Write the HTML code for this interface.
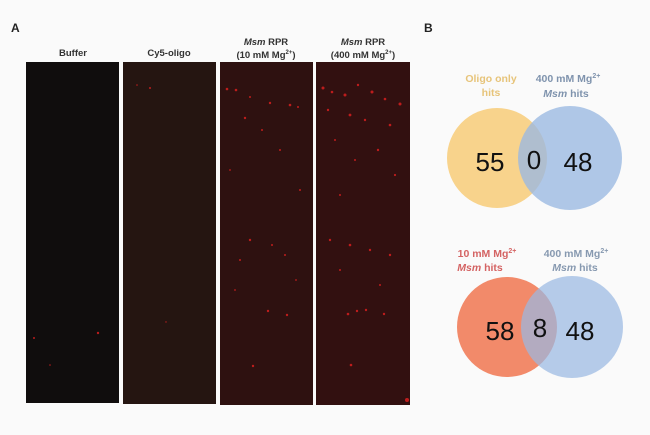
<!DOCTYPE html>
<html><head><style>
body{margin:0;width:650px;height:430px;background:#fafafa;overflow:hidden;font-family:"Liberation Sans",Arial,sans-serif}
</style></head><body>
<svg width="650" height="430" xmlns="http://www.w3.org/2000/svg" font-family="Liberation Sans, Arial, sans-serif">
<rect width="650" height="430" fill="#fafafa"/>
<text x="11" y="32" font-size="12" font-weight="bold" fill="#222">A</text>
<text x="424" y="32" font-size="12" font-weight="bold" fill="#222">B</text>
<g font-size="9.5" font-weight="bold" fill="#333" text-anchor="middle">
<text x="73" y="56">Buffer</text>
<text x="169" y="56">Cy5-oligo</text>
<text x="266" y="45"><tspan font-style="italic">Msm</tspan> RPR</text>
<text x="266" y="58">(10 mM Mg<tspan font-size="6" dy="-4">2+</tspan><tspan dy="4">)</tspan></text>
<text x="363" y="45"><tspan font-style="italic">Msm</tspan> RPR</text>
<text x="363" y="58">(400 mM Mg<tspan font-size="6" dy="-4">2+</tspan><tspan dy="4">)</tspan></text>
</g>
<rect x="26" y="62" width="93" height="341" fill="#100d0d"/>
<rect x="123" y="62" width="93" height="342" fill="#251511"/>
<rect x="220" y="62" width="93" height="343" fill="#2e1110"/>
<rect x="316" y="62" width="94" height="343" fill="#321010"/>
<g fill="#e02020" opacity="0.8">
<circle cx="98" cy="333" r="1.2"/><circle cx="34" cy="338" r="1"/><circle cx="50" cy="365" r="0.8"/>
<circle cx="150" cy="88" r="1"/><circle cx="137" cy="85" r="0.8"/><circle cx="166" cy="322" r="0.7"/>
<circle cx="227" cy="89" r="1.3"/><circle cx="236" cy="90" r="1.3"/><circle cx="250" cy="97" r="1"/><circle cx="270" cy="103" r="1.2"/><circle cx="290" cy="105" r="1.3"/><circle cx="298" cy="107" r="1"/><circle cx="245" cy="118" r="1.2"/><circle cx="262" cy="130" r="1"/><circle cx="280" cy="150" r="1"/><circle cx="230" cy="170" r="0.9"/><circle cx="300" cy="190" r="1"/><circle cx="250" cy="240" r="1.2"/><circle cx="272" cy="245" r="1"/><circle cx="285" cy="255" r="1"/><circle cx="240" cy="260" r="1"/><circle cx="268" cy="311" r="1.2"/><circle cx="287" cy="315" r="1.2"/><circle cx="253" cy="366" r="1.2"/><circle cx="235" cy="290" r="0.9"/><circle cx="296" cy="280" r="0.9"/>
<circle cx="323" cy="88" r="1.5"/><circle cx="332" cy="92" r="1.3"/><circle cx="345" cy="95" r="1.5"/><circle cx="358" cy="85" r="1.2"/><circle cx="372" cy="92" r="1.5"/><circle cx="385" cy="99" r="1.3"/><circle cx="400" cy="104" r="1.5"/><circle cx="328" cy="110" r="1.2"/><circle cx="350" cy="115" r="1.4"/><circle cx="365" cy="120" r="1.2"/><circle cx="390" cy="125" r="1.3"/><circle cx="335" cy="140" r="1"/><circle cx="378" cy="150" r="1.2"/><circle cx="355" cy="160" r="1"/><circle cx="395" cy="175" r="1.1"/><circle cx="340" cy="195" r="1"/><circle cx="330" cy="240" r="1.2"/><circle cx="350" cy="245" r="1.3"/><circle cx="370" cy="250" r="1.2"/><circle cx="390" cy="255" r="1.2"/><circle cx="340" cy="270" r="1"/><circle cx="380" cy="285" r="1"/><circle cx="348" cy="314" r="1.3"/><circle cx="357" cy="311" r="1.2"/><circle cx="366" cy="310" r="1.2"/><circle cx="384" cy="314" r="1.2"/><circle cx="351" cy="365" r="1.3"/><circle cx="407" cy="400" r="2"/>
</g>
<circle cx="497" cy="158" r="50" fill="#f8d38c"/>
<circle cx="570" cy="158" r="52" fill="#9ab8e2" opacity="0.78"/>
<circle cx="507" cy="327" r="50" fill="#f28a6a"/>
<circle cx="572" cy="327" r="51" fill="#9ab8e2" opacity="0.72"/>
<g font-size="10.5" font-weight="bold" text-anchor="middle">
<text x="491" y="82" fill="#e7c47a">Oligo only</text>
<text x="491" y="96" fill="#e7c47a">hits</text>
<text x="568" y="82" fill="#7f93ad">400 mM Mg<tspan font-size="7" dy="-4">2+</tspan></text>
<text x="566" y="97" fill="#7f93ad"><tspan font-style="italic">Msm</tspan> hits</text>
<text x="487" y="257" fill="#d46363">10 mM Mg<tspan font-size="7" dy="-4">2+</tspan></text>
<text x="480" y="271" fill="#d46363"><tspan font-style="italic">Msm</tspan> hits</text>
<text x="576" y="257" fill="#8799b0">400 mM Mg<tspan font-size="7" dy="-4">2+</tspan></text>
<text x="575" y="271" fill="#8799b0"><tspan font-style="italic">Msm</tspan> hits</text>
</g>
<g font-size="26" fill="#111" text-anchor="middle">
<text x="490" y="171">55</text>
<text x="534" y="169">0</text>
<text x="578" y="171">48</text>
<text x="500" y="340">58</text>
<text x="540" y="337">8</text>
<text x="580" y="340">48</text>
</g>
</svg>
</body></html>
